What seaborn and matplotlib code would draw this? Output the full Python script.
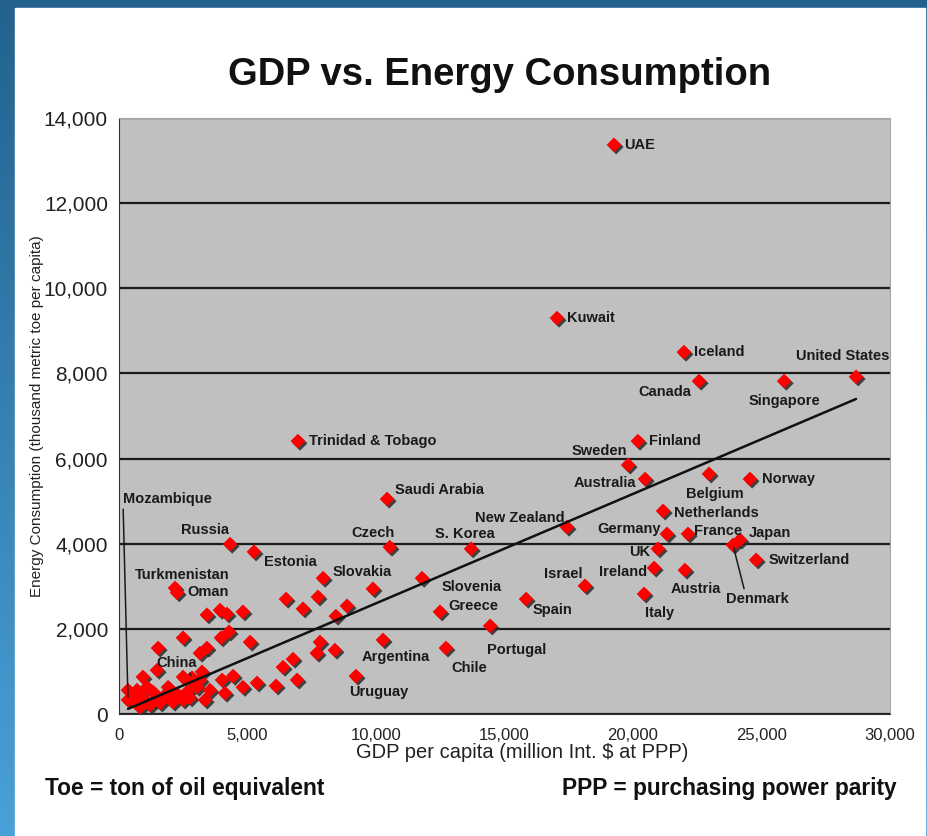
import matplotlib
matplotlib.use("Agg")
import matplotlib.pyplot as plt
import matplotlib.patheffects as pe
from matplotlib.colors import LinearSegmentedColormap
from matplotlib.patches import Rectangle
from matplotlib.ticker import StrMethodFormatter, MultipleLocator
import numpy as np
import pandas as pd
import seaborn as sns

# labelled countries: GDP per capita, energy consumption
countries = [
    "UAE", "Kuwait", "Iceland", "Canada", "Singapore", "United States",
    "Trinidad & Tobago", "Finland", "Sweden", "Australia", "Belgium", "Norway",
    "Saudi Arabia", "Netherlands", "New Zealand", "Russia", "Czech", "Estonia",
    "S. Korea", "Germany", "France", "Japan", "Denmark", "UK", "Switzerland",
    "Ireland", "Austria", "Israel", "Italy", "Spain", "Slovenia", "Greece",
    "Portugal", "Chile", "Argentina", "Uruguay", "Slovakia", "Turkmenistan",
    "Oman", "Mozambique", "China",
]
gdp = [
    19260, 17040, 21980, 22570, 25880, 28680,
    6960, 20190, 19810, 20470, 22960, 24550,
    10430, 21170, 17430, 4320, 10540, 5250,
    13700, 21320, 22140, 24160, 23890, 20970, 24790,
    20820, 22020, 18130, 20430, 15840, 11790, 12490,
    14440, 12720, 10270, 9220, 7940, 2180,
    2260, 350, 2840,
]
energy = [
    13370, 9300, 8500, 7820, 7820, 7920,
    6410, 6410, 5850, 5520, 5640, 5520,
    5050, 4770, 4390, 3990, 3920, 3810,
    3880, 4230, 4230, 4090, 3970, 3880, 3620,
    3430, 3380, 3010, 2820, 2700, 3190, 2400,
    2070, 1550, 1740, 890, 3190, 2960,
    2850, 330, 850,
]

# the rest of the countries (unlabelled)
other_gdp = [
    9880, 6500, 7740, 7160, 8870, 8440, 3420, 3930, 4200, 4820,
    2490, 3970, 4280, 5100, 1520, 3150, 3420, 7820, 7700, 8400,
    6770, 6380, 6930, 6110, 5370, 4820, 4440, 4010, 4120, 3350,
    3540, 1480, 2490, 3230, 510, 620, 930, 1090, 890, 1320,
    1710, 1910, 2100, 2300, 2650, 2760, 3040, 3150, 1210, 1600,
    820, 350, 2760, 700, 1400, 1980, 2490,
]
other_energy = [
    2940, 2700, 2750, 2470, 2540, 2300, 2330, 2440, 2350, 2400,
    1790, 1790, 1930, 1690, 1550, 1430, 1550, 1690, 1430, 1500,
    1290, 1100, 800, 660, 730, 630, 890, 800, 490, 330,
    560, 1030, 870, 990, 450, 280, 870, 630, 400, 520,
    400, 630, 280, 450, 520, 380, 630, 800, 210, 260,
    160, 560, 800, 560, 330, 490, 330,
]

# linear trend (intercept, slope)
trend_intercept = 30
trend_slope = 0.257

# label placement (pixels from the point) and alignment
label_pos = {
    "UAE": (10, 0, "left"), "Kuwait": (10, 0, "left"), "Iceland": (10, 0, "left"),
    "Canada": (-8, -11, "right"), "Singapore": (0, -20, "center"),
    "United States": (-13, 21, "center"), "Trinidad & Tobago": (11, 0, "left"),
    "Finland": (11, 0, "left"), "Sweden": (-1, 14, "right"),
    "Australia": (-9, -4, "right"), "Belgium": (6, -20, "center"),
    "Norway": (12, 0, "left"), "Saudi Arabia": (8, 9, "left"),
    "Netherlands": (11, -2, "left"), "New Zealand": (-2, 9, "right"),
    "Russia": (-1, 14, "right"), "Czech": (-17, 14, "center"),
    "Estonia": (10, -10, "left"), "S. Korea": (-6, 15, "center"),
    "Germany": (-6, 5, "right"), "France": (6, 3, "left"), "Japan": (9, 7, "left"),
    "UK": (-8, -3, "right"), "Switzerland": (12, 0, "left"),
    "Ireland": (-7, -4, "right"), "Austria": (11, -19, "center"),
    "Israel": (-2, 12, "right"), "Italy": (16, -19, "center"),
    "Spain": (7, -11, "left"), "Slovenia": (20, -9, "left"),
    "Greece": (8, 6, "left"), "Portugal": (-3, -24, "left"),
    "Chile": (5, -20, "left"), "Argentina": (-21, -17, "left"),
    "Uruguay": (-7, -16, "left"), "Slovakia": (10, 6, "left"),
    "Turkmenistan": (7, 13, "center"), "Oman": (10, 1, "left"),
}
# labels joined to their point by a leader line
leader_pos = {
    "Mozambique": (-5, 201, "left", (0.0, 0.3)),
    "China": (-15, 15, "center", (0.75, 0.1)),
    "Denmark": (24, -54, "center", (0.33, 0.6)),
}

df = pd.DataFrame({
    "gdp": gdp + other_gdp,
    "energy": energy + other_energy,
})
span = np.array([df["gdp"].min(), df["gdp"].max()])
trend = pd.DataFrame({"gdp": span, "energy": trend_intercept + trend_slope * span})

sns.set_style("white")
plt.rcParams["font.family"] = ["Liberation Sans", "DejaVu Sans"]

W, H = 928, 836
fig = plt.figure(figsize=(W / 100, H / 100), dpi=100)

# blue frame with a white panel
bg = fig.add_axes([0, 0, 1, 1], zorder=-5)
frame = LinearSegmentedColormap.from_list("frame", ["#23628d", "#4aa0d8"])
bg.imshow(np.linspace(0, 1, 256).reshape(-1, 1), aspect="auto", cmap=frame,
          extent=[0, 1, 0, 1], origin="upper")
bg.add_patch(Rectangle((15 / W, 0), 910 / W, 1 - 8 / H, color="white"))
bg.set_xlim(0, 1)
bg.set_ylim(0, 1)
bg.axis("off")

ax = fig.add_axes([119 / W, 1 - 714 / H, (890 - 119) / W, (714 - 118) / H])
ax.set_facecolor("#c0c0c0")

sns.scatterplot(data=df, x="gdp", y="energy", marker="D", s=56,
                color="#ff0000", edgecolor="none", legend=False, ax=ax, zorder=3)
ax.collections[-1].set_path_effects([
    pe.SimplePatchShadow(offset=(1.6, -1.6), shadow_rgbFace="#2a2a2a", alpha=0.85),
    pe.Normal(),
])

sns.lineplot(data=trend, x="gdp", y="energy", color="#111111", lw=1.8,
             zorder=4, ax=ax)

lab_font = dict(fontsize=10.5, fontweight="bold", color="#1a1a1a")
for name, x, y in zip(countries, gdp, energy):
    if name in label_pos:
        dx, dy, ha = label_pos[name]
        ax.annotate(name, (x, y), xytext=(dx, dy), textcoords="offset pixels",
                    ha=ha, va="center", zorder=5, **lab_font)
    else:
        dx, dy, ha, rel = leader_pos[name]
        ax.annotate(name, (x, y), xytext=(dx, dy), textcoords="offset pixels",
                    ha=ha, va="center", zorder=5,
                    arrowprops=dict(arrowstyle="-", color="#1a1a1a", lw=1.1,
                                    shrinkA=0, shrinkB=2, relpos=rel),
                    **lab_font)

ax.set_xlim(0, 30000)
ax.set_ylim(0, 14000)
ax.xaxis.set_major_locator(MultipleLocator(5000))
ax.yaxis.set_major_locator(MultipleLocator(2000))
ax.xaxis.set_major_formatter(StrMethodFormatter("{x:,.0f}"))
ax.yaxis.set_major_formatter(StrMethodFormatter("{x:,.0f}"))
ax.yaxis.grid(True, color="#1c1c1c", lw=1.6)
ax.set_axisbelow(True)
ax.tick_params(direction="out", length=5, width=1, color="#333333")
ax.tick_params(axis="x", pad=5, labelsize=12, labelcolor="#222222")
ax.tick_params(axis="y", pad=3, labelsize=15, labelcolor="#222222")
for side in ["left", "bottom"]:
    ax.spines[side].set_color("#333333")
for side in ["top", "right"]:
    ax.spines[side].set_color("#a6a6a6")

ax.set_xlabel("GDP per capita (million Int. $ at PPP)", fontsize=14.5,
              color="#222222")
ax.set_ylabel("Energy Consumption (thousand metric toe per capita)",
              fontsize=11, color="#222222")
ax.xaxis.set_label_coords((522 - 119) / 771, (714 - 752) / 596)
ax.xaxis.label.set_va("center")
ax.yaxis.set_label_coords((37 - 119) / 771, 0.5)
ax.yaxis.label.set_va("center")

fig.text(500 / W, 1 - 75 / H, "GDP vs. Energy Consumption",
         fontsize=27.5, fontweight="bold", ha="center", va="center", color="#111111")
fig.text(45 / W, 1 - 788 / H, "Toe = ton of oil equivalent",
         fontsize=16.4, fontweight="bold", ha="left", va="center", color="#111111")
fig.text(897 / W, 1 - 788 / H, "PPP = purchasing power parity",
         fontsize=16.4, fontweight="bold", ha="right", va="center", color="#111111")

fig.savefig("out.png", dpi=100)
